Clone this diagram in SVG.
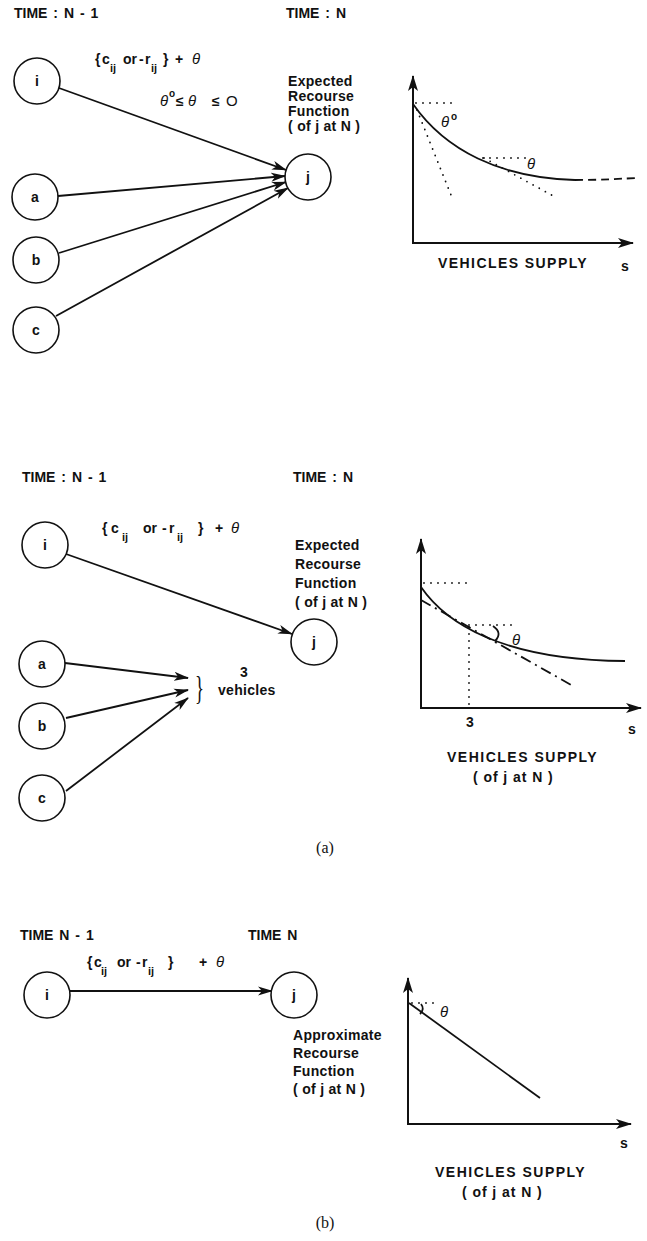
<svg xmlns="http://www.w3.org/2000/svg" width="647" height="1241" viewBox="0 0 647 1241">
<style>
.t{font-family:"Liberation Sans",Arial,sans-serif;font-weight:bold;font-size:14px;fill:#111;letter-spacing:0.3px}
.h{font-family:"Liberation Sans",Arial,sans-serif;font-weight:bold;font-size:14px;fill:#111;word-spacing:2px}
.m{font-family:"Liberation Sans",Arial,sans-serif;font-weight:bold;font-size:14px;fill:#111}
.s{font-size:11px}
.th{font-family:"Liberation Sans",Arial,sans-serif;font-style:italic;font-size:15px;fill:#111}
.n{fill:#fff;stroke:#111;stroke-width:1.6}
.nl{font-family:"Liberation Sans",Arial,sans-serif;font-weight:bold;font-size:14px;fill:#111;text-anchor:middle}
.e{fill:none;stroke:#111;stroke-width:1.8}
.ax{fill:none;stroke:#111;stroke-width:2}
.cv{fill:none;stroke:#111;stroke-width:1.8}
.dot{fill:none;stroke:#111;stroke-width:1.8;stroke-dasharray:0 7;stroke-linecap:round}
.cap{font-family:"Liberation Serif","Times New Roman",serif;font-size:16px;fill:#111;text-anchor:middle}
</style>
<defs>
<marker id="ah" markerUnits="userSpaceOnUse" markerWidth="15" markerHeight="10" refX="14" refY="5" orient="auto"><path d="M0,0.5 L15,5 L0,9.5 L4,5 z" fill="#111"/></marker>
<marker id="axh" markerUnits="userSpaceOnUse" markerWidth="16" markerHeight="10" refX="15" refY="5" orient="auto"><path d="M0,0 L16,5 L0,10 L4,5 z" fill="#111"/></marker>
</defs>

<!-- ===== Panel 1 ===== -->
<g id="p1-labels">
<text class="h" x="14" y="18">TIME : N - 1</text>
<text class="h" x="286" y="18">TIME : N</text>
<text class="m" y="64"><tspan x="95">{</tspan><tspan x="102">c</tspan><tspan x="110" y="72" class="s">ij</tspan><tspan x="123" y="64">or</tspan><tspan x="139">-</tspan><tspan x="145">r</tspan><tspan x="151" y="72" class="s">ij</tspan><tspan x="163" y="64">}</tspan><tspan x="175">+</tspan></text>
<text class="th" x="192" y="64">θ</text>
<text class="th" x="160" y="106">θ</text>
<text class="m" x="169" y="97" style="font-size:10px">o</text>
<text class="m" x="176" y="106">≤</text>
<text class="th" x="188" y="106">θ</text>
<text class="m" x="212" y="106">≤</text>
<text class="m" x="226" y="106" style="font-weight:normal;font-size:15px">O</text>
<text class="t" x="288" y="86">Expected</text>
<text class="t" x="288" y="101">Recourse</text>
<text class="t" x="288" y="116">Function</text>
<text class="t" x="288" y="131">( of j at N )</text>
</g>
<g id="p1-connectors">
<line class="e" x1="59" y1="88" x2="286" y2="170" marker-end="url(#ah)"/>
<line class="e" x1="58" y1="196" x2="285" y2="176" marker-end="url(#ah)"/>
<line class="e" x1="59" y1="253" x2="286" y2="182" marker-end="url(#ah)"/>
<line class="e" x1="56" y1="316" x2="288" y2="188" marker-end="url(#ah)"/>
</g>
<g id="p1-node-i"><circle class="n" cx="37" cy="81" r="23"/><text class="nl" x="37" y="86">i</text></g>
<g id="p1-node-j"><circle class="n" cx="308" cy="177" r="23"/><text class="nl" x="308" y="182">j</text></g>
<g id="p1-node-a"><circle class="n" cx="35" cy="197" r="23"/><text class="nl" x="35" y="202">a</text></g>
<g id="p1-node-b"><circle class="n" cx="36" cy="260" r="23"/><text class="nl" x="36" y="265">b</text></g>
<g id="p1-node-c"><circle class="n" cx="36" cy="330" r="23"/><text class="nl" x="36" y="335">c</text></g>
<g id="p1-graph">
<path class="ax" d="M413,243 V76" marker-end="url(#axh)"/>
<path class="ax" d="M412,243 H633" marker-end="url(#axh)"/>
<path class="cv" d="M413,104 C445,150 500,178 575,180"/>
<path class="cv" d="M575,180 C600,180 615,179 637,178" style="stroke-dasharray:8 5"/>
<path class="dot" d="M416,103 H458"/>
<path class="dot" d="M417,110 L451,195"/>
<path class="dot" d="M483,158 H527"/>
<path class="dot" d="M484,158 L557,198"/>
<text class="th" x="441" y="127">θ</text>
<text class="m" x="451" y="120" style="font-size:10px">o</text>
<text class="th" x="527" y="169">θ</text>
<text class="t" x="438" y="268" textLength="149" lengthAdjust="spacing">VEHICLES SUPPLY</text>
<text class="t" x="621" y="271">s</text>
</g>

<!-- ===== Panel 2 ===== -->
<g id="p2-labels">
<text class="h" x="22" y="482">TIME : N - 1</text>
<text class="h" x="293" y="482">TIME : N</text>
<text class="m" y="533"><tspan x="102">{</tspan><tspan x="111">c</tspan><tspan x="122" y="541" class="s">ij</tspan><tspan x="143" y="533">or</tspan><tspan x="162">-</tspan><tspan x="169">r</tspan><tspan x="177" y="541" class="s">ij</tspan><tspan x="198" y="533">}</tspan><tspan x="215">+</tspan></text>
<text class="th" x="231" y="533">θ</text>
<text class="t" x="295" y="550">Expected</text>
<text class="t" x="295" y="569">Recourse</text>
<text class="t" x="295" y="588">Function</text>
<text class="t" x="295" y="607">( of j at N )</text>
<text transform="translate(195,699) scale(0.55,1)" style="font-family:'Liberation Serif',serif;font-size:34px;fill:#111">}</text>
<text class="t" x="240" y="677">3</text>
<text class="t" x="218" y="695">vehicles</text>
</g>
<g id="p2-connectors">
<line class="e" x1="66" y1="554" x2="292" y2="634" marker-end="url(#ah)"/>
<line class="e" x1="65" y1="663" x2="188" y2="678" marker-end="url(#ah)"/>
<line class="e" x1="66" y1="718" x2="188" y2="690" marker-end="url(#ah)"/>
<line class="e" x1="66" y1="791" x2="188" y2="698" marker-end="url(#ah)"/>
</g>
<g id="p2-node-i"><circle class="n" cx="45" cy="545" r="23"/><text class="nl" x="45" y="550">i</text></g>
<g id="p2-node-j"><circle class="n" cx="314" cy="642" r="23"/><text class="nl" x="314" y="647">j</text></g>
<g id="p2-node-a"><circle class="n" cx="42" cy="664" r="23"/><text class="nl" x="42" y="669">a</text></g>
<g id="p2-node-b"><circle class="n" cx="42" cy="726" r="23"/><text class="nl" x="42" y="731">b</text></g>
<g id="p2-node-c"><circle class="n" cx="42" cy="798" r="23"/><text class="nl" x="42" y="803">c</text></g>
<g id="p2-graph">
<path class="ax" d="M421,708 V539" marker-end="url(#axh)"/>
<path class="ax" d="M420,708 H641" marker-end="url(#axh)"/>
<path class="cv" d="M421,587 C445,622 500,660 625,661"/>
<path class="cv" d="M421,600 L573,686" style="stroke-dasharray:11 5 2 5"/>
<path class="dot" d="M424,583 H473"/>
<path class="dot" d="M469,627 V706"/>
<path class="dot" d="M469,625 H515"/>
<path class="cv" d="M493,626 Q503,633 495,641"/>
<text class="th" x="512" y="645">θ</text>
<text class="t" x="466" y="727">3</text>
<text class="t" x="628" y="734">s</text>
<text class="t" x="447" y="762" textLength="150" lengthAdjust="spacing">VEHICLES SUPPLY</text>
<text class="t" x="473" y="782" textLength="80" lengthAdjust="spacing">( of j at N )</text>
</g>
<text class="cap" x="325" y="853">(a)</text>

<!-- ===== Panel 3 ===== -->
<g id="p3-labels">
<text class="h" x="20" y="940">TIME N - 1</text>
<text class="h" x="248" y="940">TIME N</text>
<text class="m" y="967"><tspan x="87">{</tspan><tspan x="94">c</tspan><tspan x="101" y="975" class="s">ij</tspan><tspan x="117" y="967">or</tspan><tspan x="136">-</tspan><tspan x="142">r</tspan><tspan x="148" y="975" class="s">ij</tspan><tspan x="168" y="967">}</tspan><tspan x="199">+</tspan></text>
<text class="th" x="216" y="967">θ</text>
<text class="t" x="293" y="1040">Approximate</text>
<text class="t" x="293" y="1058">Recourse</text>
<text class="t" x="293" y="1076">Function</text>
<text class="t" x="293" y="1094">( of j at N )</text>
</g>
<g id="p3-connectors">
<line class="e" x1="70" y1="991" x2="272" y2="991" marker-end="url(#ah)"/>
</g>
<g id="p3-node-i"><circle class="n" cx="47" cy="995" r="23"/><text class="nl" x="47" y="1000">i</text></g>
<g id="p3-node-j"><circle class="n" cx="294" cy="995" r="23"/><text class="nl" x="294" y="1000">j</text></g>
<g id="p3-graph">
<path class="ax" d="M408,1124 V978" marker-end="url(#axh)"/>
<path class="ax" d="M407,1124 H631" marker-end="url(#axh)"/>
<path class="cv" d="M409,1003 L540,1098"/>
<path class="dot" d="M412,1003 H440"/>
<path class="cv" d="M421,1004 Q425,1009 420,1014"/>
<text class="th" x="440" y="1017">θ</text>
<text class="t" x="620" y="1148">s</text>
<text class="t" x="435" y="1177" textLength="150" lengthAdjust="spacing">VEHICLES SUPPLY</text>
<text class="t" x="462" y="1197" textLength="80" lengthAdjust="spacing">( of j at N )</text>
</g>
<text class="cap" x="325" y="1228">(b)</text>
</svg>
